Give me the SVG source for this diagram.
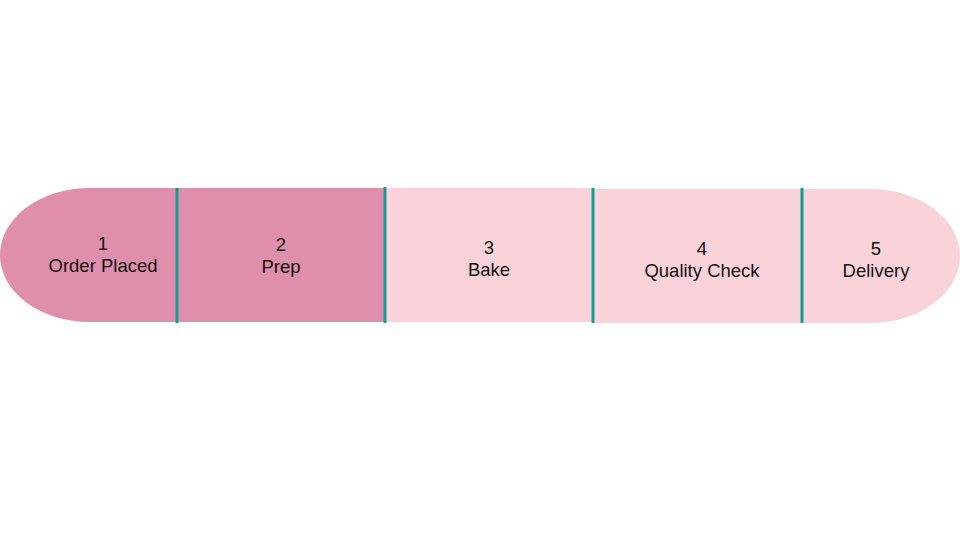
<svg xmlns="http://www.w3.org/2000/svg" width="960" height="540" viewBox="0 0 960 540">
<style>
.dark{fill:#df8eab}
.light{fill:#f9d3d9}
.div{stroke:#0f9e95;stroke-width:3}
text{font-family:"Liberation Sans",Arial,sans-serif;font-size:18.5px;fill:#111;text-anchor:middle}
</style>
<rect width="960" height="540" fill="#fff"/>
<g id="step1">
<path class="dark" d="M177,188 L90,188 A90,67 0 0 0 90,322 L177,322 Z"/>
<text x="103" y="250">1</text>
<text x="103" y="272">Order Placed</text>
</g>
<g id="step2">
<rect class="dark" x="177" y="188" width="208" height="134"/>
<text x="281" y="251">2</text>
<text x="281" y="273">Prep</text>
</g>
<g id="step3">
<rect class="light" x="385" y="188" width="208" height="134"/>
<text x="489" y="254">3</text>
<text x="489" y="276">Bake</text>
</g>
<g id="step4">
<rect class="light" x="593" y="189" width="209" height="134"/>
<text x="702" y="255">4</text>
<text x="702" y="277">Quality Check</text>
</g>
<g id="step5">
<path class="light" d="M802,189 L870,189 A90,67 0 0 1 870,323 L802,323 Z"/>
<text x="876" y="255">5</text>
<text x="876" y="277">Delivery</text>
</g>
<g id="connectors">
<line class="div" x1="177" y1="188" x2="177" y2="323"/>
<line class="div" x1="385" y1="187" x2="385" y2="323"/>
<line class="div" x1="593" y1="188" x2="593" y2="323"/>
<line class="div" x1="802" y1="188" x2="802" y2="323"/>
</g>
</svg>
